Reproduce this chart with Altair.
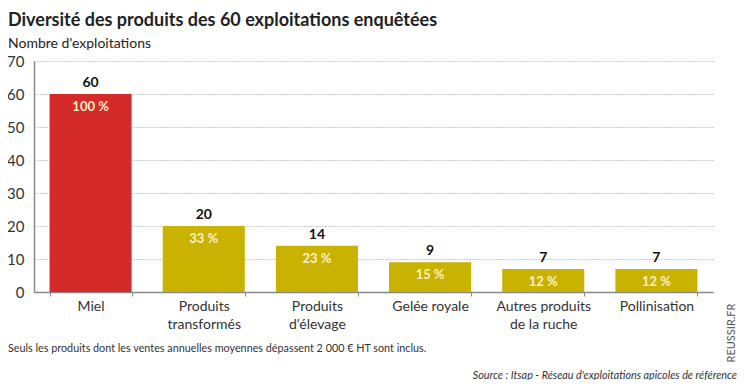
import altair as alt
import pandas as pd

categories = ["Miel", "Produits|transformés", "Produits|d'élevage", "Gelée royale",
              "Autres produits|de la ruche", "Pollinisation"]
values = [60, 20, 14, 9, 7, 7]
percents = ["100 %", "33 %", "23 %", "15 %", "12 %", "12 %"]
colors = ["#d42a2a", "#c9b200", "#c9b200", "#c9b200", "#c9b200", "#c9b200"]
y_ticks = [0, 10, 20, 30, 40, 50, 60, 70]

title_text = "Diversité des produits des 60 exploitations enquêtées"
subtitle_text = "Nombre d'exploitations"
footnote = "Seuls les produits dont les ventes annuelles moyennes dépassent 2 000 € HT sont inclus."
source = "Source : Itsap - Réseau d'exploitations apicoles de référence"
brand = "REUSSIR.FR"

FONT = "Lato, Roboto, sans-serif"

df = pd.DataFrame({"cat": categories, "val": values, "pct": percents, "color": colors})

W, H = 679, 231

x = alt.X("cat:N", sort=categories, title=None,
          scale=alt.Scale(paddingInner=0.275, paddingOuter=0.1375),
          axis=alt.Axis(labelAngle=0, labelExpr="split(datum.label, '|')",
                        labelFont=FONT, labelFontSize=14, labelColor="#333",
                        labelLineHeight=18, labelPadding=3, labelBaseline="top",
                        tickBand="extent", tickSize=4, tickColor="#888",
                        domainColor="#888", domainWidth=1.5, grid=False))
y = alt.Y("val:Q", title=None,
          scale=alt.Scale(domain=[0, 70], nice=False),
          axis=alt.Axis(values=y_ticks, labelFont=FONT, labelFontSize=15, labelColor="#333",
                        labelPadding=10, labelOverlap=False, ticks=False,
                        domainColor="#888", domainWidth=1.5,
                        grid=True, gridColor="#999", gridDash=[1, 2], gridWidth=1))

bars = alt.Chart(df).mark_bar().encode(
    x=x, y=y, color=alt.Color("color:N", scale=None))

vals = alt.Chart(df).mark_text(baseline="bottom", dy=-4, font=FONT, fontSize=14,
                                fontWeight="bold", color="#111").encode(
    x=x, y=y, text="val:Q")

pcts = alt.Chart(df).mark_text(baseline="middle", dy=13, font=FONT, fontSize=13,
                                fontWeight="bold", color="#fbf0c8").encode(
    x=x, y=y, text="pct:N")

one = pd.DataFrame({"t": [0]})

def note(text, xpos, ypos, **kw):
    return alt.Chart(one).mark_text(font=FONT, **kw).encode(
        x=alt.value(xpos), y=alt.value(ypos), text=alt.value(text))

t1 = note(title_text, -26, -40, fontSize=18, fontWeight="bold", align="left",
          baseline="middle", color="#222")
t2 = note(subtitle_text, -26, -17, fontSize=14, align="left", baseline="middle", color="#222")
t3 = note(footnote, -26, 288, fontSize=10.8, align="left", baseline="middle", color="#333")
t4 = note(source, 703, 315, fontSize=10.8, fontStyle="italic", align="right",
          baseline="middle", color="#333")
t5 = note(brand, 698, 272, fontSize=11, align="center", baseline="middle",
          angle=270, color="#555")

chart = alt.layer(bars, vals, pcts, t1, t2, t3, t4, t5).properties(
    width=W, height=H,
    background="white",
    autosize=alt.AutoSizeParams(type="none"),
    padding={"left": 26, "top": 53, "right": 26, "bottom": 88},
).configure_view(stroke=None)

chart.save("out.html", embed_options={"renderer": "svg", "actions": False})
